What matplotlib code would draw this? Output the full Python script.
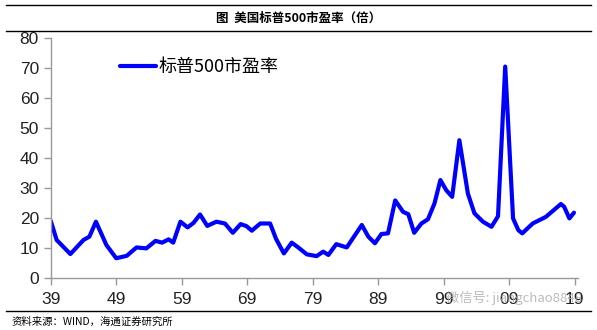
import matplotlib
matplotlib.use("Agg")
import matplotlib.pyplot as plt
from matplotlib.lines import Line2D

# S&P 500 trailing P/E
years = [1939.0, 1939.9, 1942.0, 1944.0, 1944.9, 1945.9, 1947.5, 1949.0, 1950.6, 1952.1,
         1953.6, 1955.0, 1956.0, 1957.0, 1957.7, 1958.8, 1959.9, 1960.8, 1961.8, 1962.9,
         1964.3, 1965.6, 1966.8, 1968.0, 1968.9, 1969.7, 1971.0, 1972.5, 1973.4, 1974.6,
         1975.8, 1976.8, 1978.1, 1979.6, 1980.6, 1981.4, 1982.6, 1984.2, 1986.5, 1987.5,
         1988.5, 1989.5, 1990.5, 1991.6, 1992.8, 1993.6, 1994.5, 1995.6, 1996.6, 1997.6,
         1998.5, 1999.4, 2000.3, 2001.4, 2002.7, 2003.7, 2005.0, 2006.3, 2007.3, 2008.4,
         2009.6, 2010.4, 2011.0, 2012.6, 2014.6, 2016.9, 2017.4, 2018.2, 2018.9]
pe = [19.0, 12.6, 7.9, 12.6, 13.7, 18.7, 10.9, 6.5, 7.3, 10.1,
      9.8, 12.3, 11.7, 12.8, 11.7, 18.7, 16.8, 18.3, 21.1, 17.3,
      18.7, 18.1, 15.0, 17.9, 17.2, 15.7, 18.1, 18.1, 13.0, 8.1,
      11.7, 10.1, 7.8, 7.2, 8.7, 7.6, 11.2, 10.1, 17.6, 13.7,
      11.5, 14.6, 14.8, 25.8, 22.0, 21.2, 15.0, 18.1, 19.5, 24.8,
      32.6, 29.2, 27.0, 45.9, 28.1, 21.5, 18.7, 17.0, 20.5, 70.5,
      19.8, 15.9, 14.8, 18.1, 20.3, 24.6, 23.7, 19.8, 21.7]
tick_years = [1939, 1949, 1959, 1969, 1979, 1989, 1999, 2009, 2019]
tick_labels = ["39", "49", "59", "69", "79", "89", "99", "09", "19"]

cjk = ["Noto Sans CJK SC", "DejaVu Sans"]

fig = plt.figure(figsize=(5.97, 3.30), dpi=100, facecolor="white")
ax = fig.add_axes([0.085, 0.1585, 0.883, 0.726])

ax.plot(years, pe, color="#0000FF", lw=3.0, solid_joinstyle="round",
        solid_capstyle="round", label="标普500市盈率")

ax.set_xlim(1939, 2019.5)
ax.set_ylim(0, 80)
ax.set_yticks(range(0, 81, 10))
ax.set_xticks(tick_years)
ax.set_xticklabels(tick_labels)

for s in ["top", "right"]:
    ax.spines[s].set_visible(False)
for s in ["left", "bottom"]:
    ax.spines[s].set_color("#999999")
    ax.spines[s].set_linewidth(1.0)
ax.tick_params(axis="both", colors="#999999", length=5, width=1.0,
               labelcolor="#222222", labelsize=12.5)
ax.tick_params(axis="x", pad=5)
for lbl in ax.get_xticklabels() + ax.get_yticklabels():
    lbl.set_family("Liberation Sans")

leg = ax.legend(loc="upper left", bbox_to_anchor=(0.1, 0.985), frameon=False,
                handlelength=2.0, handletextpad=0.15, prop={"family": cjk, "size": 13})

# title block with rules
fig.add_artist(Line2D([0.01, 0.99], [0.985, 0.985], color="black", lw=1.0))
fig.add_artist(Line2D([0.01, 0.99], [0.905, 0.905], color="black", lw=1.0))
fig.add_artist(Line2D([0.01, 0.99], [0.058, 0.058], color="black", lw=1.0))
fig.text(0.5, 0.946, "图  美国标普500市盈率（倍）", ha="center", va="center",
         family=cjk, fontsize=9, fontweight="bold")
fig.text(0.02, 0.025, "资料来源：WIND，海通证券研究所", ha="left", va="center",
         family=cjk, fontsize=7.5)

# faint watermark over the lower right
fig.text(0.975, 0.098, "微信号: jiangchao8848", ha="right", va="center",
         family=cjk, fontsize=9.5, color="#aaaaaa", alpha=0.8)

fig.savefig("out.png", dpi=100, facecolor="white")
